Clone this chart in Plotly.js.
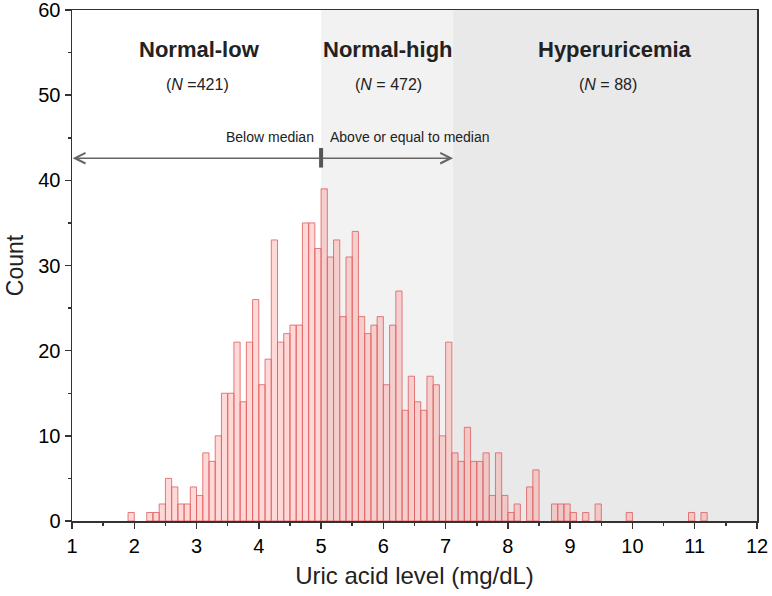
<!DOCTYPE html>
<html>
<head>
<meta charset="utf-8">
<script src="https://cdn.plot.ly/plotly-3.0.1.min.js"></script>
<style>html,body{margin:0;padding:0;background:#fff;}#chart{width:772px;height:596px;}</style>
</head>
<body>
<div id="chart"></div>
<script>
// Histogram bins: first bin starts at 1.9 mg/dL, bin width 0.1
const firstBin = 1.9;
const binWidth = 0.1;
const counts = [
  1, 0, 0, 1, 1, 2, 5, 4, 2, 2, 4,          // 1.9 - 2.9
  3, 8, 7, 10, 15, 15, 21, 14, 21, 26,      // 3.0 - 3.9
  16, 19, 33, 21, 22, 23, 23, 35, 35, 32,   // 4.0 - 4.9
  39, 31, 33, 24, 31, 34, 24, 22, 23, 24,   // 5.0 - 5.9
  16, 23, 27, 13, 17, 14, 13, 17, 16, 10,   // 6.0 - 6.9
  21, 8, 7, 11, 7, 7, 8, 3, 8, 3,           // 7.0 - 7.9
  1, 2, 0, 4, 6, 0, 0, 2, 2, 2,             // 8.0 - 8.9
  1, 0, 1, 0, 2, 0, 0, 0, 0, 1,             // 9.0 - 9.9
  0, 0, 0, 0, 0, 0, 0, 0, 0, 1, 0, 1        // 10.0 - 11.1
];
const groupNames = ["Normal-low", "Normal-high", "Hyperuricemia"];
const groupN = ["(<i>N</i> =421)", "(<i>N</i> = 472)", "(<i>N</i> = 88)"];
const median = 5.0;
const hyperCut = 7.12;
const xTicks = [1,2,3,4,5,6,7,8,9,10,11,12];
const yTicks = [0,10,20,30,40,50,60];

const bx = [], by = [];
counts.forEach((c, i) => {
  if (c > 0) { bx.push(+(firstBin + i * binWidth).toFixed(2)); by.push(c); }
});

const trace = {
  type: 'bar',
  x: bx, y: by,
  offset: 0, width: binWidth,
  marker: { color: 'rgba(255,110,110,0.27)', line: { color: 'rgba(225,100,100,0.85)', width: 1 } },
  hoverinfo: 'x+y'
};

const font = 'Liberation Sans, Arial, sans-serif';
const layout = {
  width: 772, height: 596,
  margin: { l: 72, r: 15, t: 10, b: 75 },
  paper_bgcolor: '#fff', plot_bgcolor: '#fff',
  showlegend: false,
  bargap: 0,
  font: { family: font, color: '#000' },
  xaxis: {
    range: [1, 12], tickvals: xTicks, ticktext: xTicks.map(String),
    showgrid: false, zeroline: false, showline: true, mirror: true,
    linecolor: '#333', linewidth: 1.5,
    ticks: 'outside', ticklen: 6, tickwidth: 1.5, tickcolor: '#333',
    minor: { dtick: 0.5, tick0: 0, ticks: 'outside', ticklen: 3, tickcolor: '#333' },
    tickfont: { size: 20, family: font, color: '#000' },
    ticklabeloverflow: 'allow',
    title: { text: 'Uric acid level (mg/dL)', font: { size: 24, family: font, color: '#222' }, standoff: 11 }
  },
  yaxis: {
    range: [0, 60], tickvals: yTicks, ticktext: yTicks.map(String),
    showgrid: false, zeroline: false, showline: true, mirror: true,
    linecolor: '#333', linewidth: 1.5,
    ticks: 'outside', ticklen: 6, tickwidth: 1.5, tickcolor: '#333',
    minor: { dtick: 5, ticks: 'outside', ticklen: 3, tickcolor: '#333' },
    tickfont: { size: 20, family: font, color: '#000' },
    ticklabeloverflow: 'allow',
    title: { text: 'Count', font: { size: 23, family: font, color: '#222' }, standoff: 8 }
  },
  shapes: [
    { type: 'rect', layer: 'below', xref: 'x', yref: 'paper', x0: median, x1: hyperCut, y0: 0, y1: 1, fillcolor: '#F2F2F2', line: { width: 0 } },
    { type: 'rect', layer: 'below', xref: 'x', yref: 'paper', x0: hyperCut, x1: 12, y0: 0, y1: 1, fillcolor: '#E9E9E9', line: { width: 0 } },
    { type: 'line', xref: 'x', yref: 'y', x0: median, x1: median, y0: 41.5, y1: 43.8, line: { color: '#555', width: 4 } }
  ],
  annotations: [
    { x: 3.05, y: 55.4, text: '<b>' + groupNames[0] + '</b>', showarrow: false, font: { size: 22, family: font, color: '#222' } },
    { x: 6.07, y: 55.4, text: '<b>' + groupNames[1] + '</b>', showarrow: false, font: { size: 22, family: font, color: '#222' } },
    { x: 9.72, y: 55.4, text: '<b>' + groupNames[2] + '</b>', showarrow: false, font: { size: 22, family: font, color: '#222' } },
    { x: 3.02, y: 51.2, text: groupN[0], showarrow: false, font: { size: 16, family: font, color: '#222' } },
    { x: 6.09, y: 51.2, text: groupN[1], showarrow: false, font: { size: 16, family: font, color: '#222' } },
    { x: 9.6, y: 51.2, text: groupN[2], showarrow: false, font: { size: 16, family: font, color: '#222' } },
    { x: 4.92, y: 45.1, xanchor: 'right', text: 'Below median', showarrow: false, font: { size: 14, family: font, color: '#222' } },
    { x: 5.11, y: 45.1, xanchor: 'left', text: 'Above or equal to median', showarrow: false, font: { size: 14, family: font, color: '#222' } },
    { x: 1.01, y: 42.6, ax: median, ay: 42.6, axref: 'x', ayref: 'y', xref: 'x', yref: 'y', text: '', showarrow: true, arrowhead: 5, arrowsize: 1.3, arrowwidth: 1.6, arrowcolor: '#666' },
    { x: hyperCut, y: 42.6, ax: median, ay: 42.6, axref: 'x', ayref: 'y', xref: 'x', yref: 'y', text: '', showarrow: true, arrowhead: 5, arrowsize: 1.3, arrowwidth: 1.6, arrowcolor: '#666' }
  ]
};

Plotly.newPlot('chart', [trace], layout, { displayModeBar: false, staticPlot: true });
</script>
</body>
</html>
